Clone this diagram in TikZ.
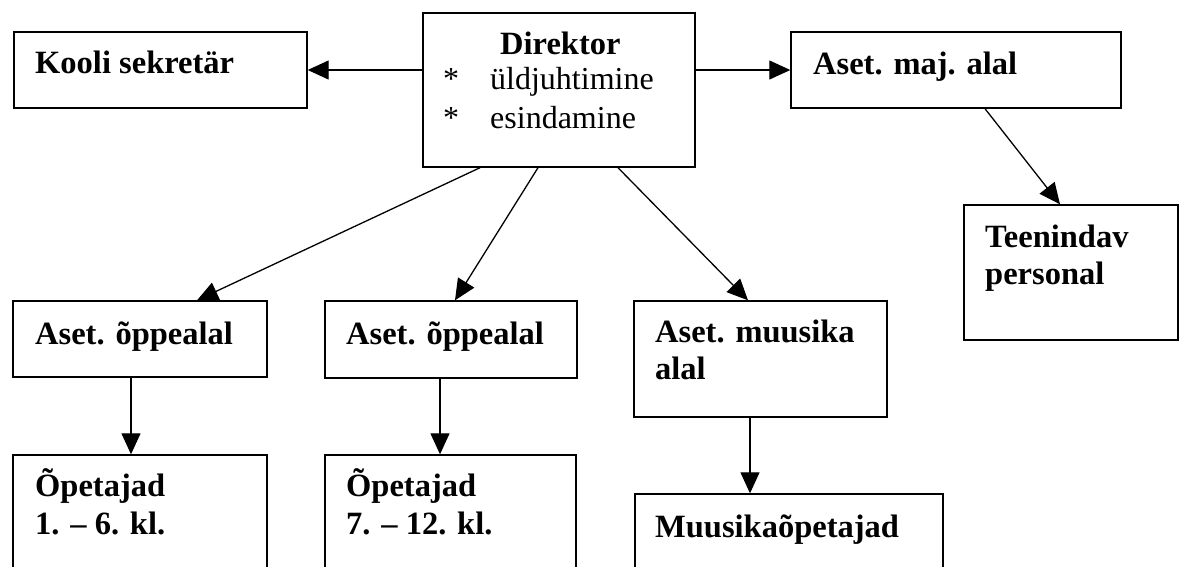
\documentclass[tikz,border=0pt]{standalone}
\usepackage{fontspec}
\setmainfont{Liberation Serif}
\usetikzlibrary{arrows.meta,calc}
\begin{document}
\begin{tikzpicture}[x=1pt,y=-1pt,
  box/.style={draw, line width=1.4pt, inner sep=0pt, rectangle},
  txt/.style={anchor=base west, inner sep=0pt, font=\fontsize{32.5}{38}\selectfont\bfseries},
  plain/.style={anchor=base west, inner sep=0pt, font=\fontsize{32}{38}\selectfont},
  arr/.style={line width=1.3pt, -{Triangle[length=21pt,width=19pt]}}]
\useasboundingbox (0,0) rectangle (1180,566);
\fill[white] (0,0) rectangle (1180,566);
\clip (0,0) rectangle (1180,566);

% boxes
\node[box, minimum width=293pt, minimum height=76pt] (kooli) at (160.5,70) {};
\node[box, minimum width=272pt, minimum height=154pt] (dir) at (559,90) {};
\node[box, minimum width=330pt, minimum height=76pt] (maj) at (956,70) {};
\node[box, minimum width=214pt, minimum height=135pt] (teen) at (1071,272.5) {};
\node[box, minimum width=254pt, minimum height=76pt] (opp1) at (140,339) {};
\node[box, minimum width=252pt, minimum height=77pt] (opp2) at (451,339.5) {};
\node[box, minimum width=253pt, minimum height=116pt] (muus) at (760.5,359) {};
\node[box, minimum width=254pt, minimum height=170pt] (opet1) at (140,540) {};
\node[box, minimum width=251pt, minimum height=170pt] (opet2) at (450.5,540) {};
\node[box, minimum width=308pt, minimum height=132pt] (muusop) at (789,560) {};

% texts
\node[txt] (tkooli) at (35,73) {Kooli sekretär};
\node[txt] (tdir) at (500,54) {Direktor};
\node[plain] (s1) at (443,89) {*};
\node[plain] (td1) at (490,89) {üldjuhtimine};
\node[plain] (s2) at (443,128) {*};
\node[plain] (td2) at (490,128) {esindamine};
\node[txt] (tmaj) at (813,74) {Aset. maj. alal};
\node[txt] (tteen1) at (985,247) {Teenindav};
\node[txt] (tteen2) at (985,284) {personal};
\node[txt] (topp1) at (35,344) {Aset. õppealal};
\node[txt] (topp2) at (346,344) {Aset. õppealal};
\node[txt] (tmuus1) at (655,342) {Aset. muusika};
\node[txt] (tmuus2) at (655,379) {alal};
\node[txt] (topet1a) at (35,496) {Õpetajad};
\node[txt] (topet1b) at (35,534) {1. – 6. kl.};
\node[txt] (topet2a) at (346,496) {Õpetajad};
\node[txt] (topet2b) at (346,534) {7. – 12. kl.};
\node[txt] (tmuusop) at (655,537) {Muusikaõpetajad};

% connectors
\draw[arr] (dir.west |- kooli.east) -- (kooli.east);
\draw[arr] (dir.east |- maj.west) -- (maj.west);
\draw[arr] ([xshift=29pt]maj.south) -- ([xshift=-11pt]teen.north);
\draw[arr] ([xshift=-79pt]dir.south) -- ([xshift=57pt]opp1.north);
\draw[arr] ([xshift=-21pt]dir.south) -- ([xshift=4pt]opp2.north);
\draw[arr] ([xshift=59pt]dir.south) -- ([xshift=-12.5pt]muus.north);
\coordinate (a1) at ([xshift=-9pt]opp1.south);
\coordinate (a2) at ([xshift=-11pt]opp2.south);
\coordinate (a3) at ([xshift=-10.5pt]muus.south);
\draw[arr] (a1) -- (a1 |- opet1.north);
\draw[arr] (a2) -- (a2 |- opet2.north);
\draw[arr] (a3) -- (a3 |- muusop.north);
\end{tikzpicture}
\end{document}
